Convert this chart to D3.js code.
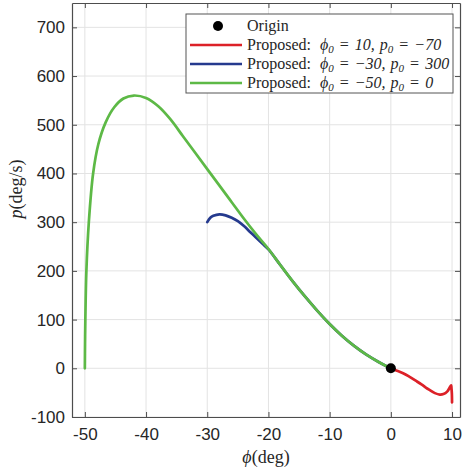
<!DOCTYPE html>
<html>
<head>
<meta charset="utf-8">
<script src="https://cdn.jsdelivr.net/npm/d3@7"></script>
<style>
  body { margin: 0; background: #fff; }
  text { fill: #262626; }
</style>
</head>
<body>
<svg id="chart" width="463" height="470"></svg>
<script>
// Phase-plane trajectories (roll angle vs roll rate)
const xTicks = [-50, -40, -30, -20, -10, 0, 10];
const yTicks = [-100, 0, 100, 200, 300, 400, 500, 600, 700];

const originPhi = [0];
const originP = [0];

const redPhi = [10, 9.97, 9.9, 9.85, 9.6, 9.2, 8.6, 8.0, 7.2, 6.0, 5.0, 4.0, 3.0, 2.0, 1.0, 0];
const redP   = [-70, -52, -40, -35, -40, -48, -53, -54, -51, -42, -33, -25, -17, -10, -5, 0];

const bluePhi = [-30, -29.5, -29, -28, -27, -26, -25, -24, -23, -22, -21, -20, -18, -16, -14, -12, -10, -8, -6, -4, -2, 0];
const blueP   = [300, 309, 313, 316, 314, 309, 302, 292, 280, 268, 256, 244, 211, 178, 147, 118, 91, 67, 46, 28, 13, 0];

const greenPhi = [-50, -49.97, -49.92, -49.75, -49.35, -48.65, -47.8, -46.6, -45.2, -43.7, -42, -40, -38, -36, -34, -32, -30, -28, -26, -24, -22, -20, -18, -16, -14, -12, -10, -8, -6, -4, -2, 0];
const greenP   = [0, 50, 100, 200, 300, 400, 460, 505, 536, 554, 560, 555, 538, 511, 477, 443, 409, 375, 341, 307, 275, 245, 211, 178, 147, 118, 91, 67, 46, 28, 13, 0];

const legendLabels = [
  {kind: "marker", color: "#000"},
  {kind: "line", color: "#dc2128", phi: "10", p: "−70"},
  {kind: "line", color: "#253a8e", phi: "−30", p: "300"},
  {kind: "line", color: "#5db946", phi: "−50", p: "0"}
];

const svg = d3.select("#chart");
const W = 463, H = 470;
const m = {left: 72, right: 3, top: 3, bottom: 53};
const x = d3.scaleLinear().domain([-52.1, 11.3]).range([m.left, W - m.right]);
const y = d3.scaleLinear().domain([-100, 750]).range([H - m.bottom, m.top]);

const axisColor = "#4d4d4d";
const gridColor = "#e3e3e3";

// grid
const grid = svg.append("g");
grid.selectAll(".gx").data(xTicks).join("line")
  .attr("x1", d => x(d)).attr("x2", d => x(d))
  .attr("y1", y.range()[1]).attr("y2", y.range()[0])
  .attr("stroke", gridColor).attr("stroke-width", 1);
grid.selectAll(".gy").data(yTicks).join("line")
  .attr("y1", d => y(d)).attr("y2", d => y(d))
  .attr("x1", x.range()[0]).attr("x2", x.range()[1])
  .attr("stroke", gridColor).attr("stroke-width", 1);

// axes: ticks point inward on all four sides
const tickLen = 5;
function styleAxis(g) {
  g.select(".domain").attr("stroke", axisColor).attr("stroke-width", 1.2);
  g.selectAll(".tick line").attr("stroke", axisColor);
  g.selectAll(".tick text").attr("font-family", "Liberation Sans, Arial, sans-serif")
    .attr("font-size", 17).attr("fill", "#262626");
}
svg.append("g").attr("transform", `translate(0,${y.range()[0]})`)
  .call(d3.axisBottom(x).tickValues(xTicks).tickSizeInner(-tickLen).tickSizeOuter(0).tickPadding(11).tickFormat(d3.format("d")))
  .call(styleAxis);
svg.append("g").attr("transform", `translate(0,${y.range()[1]})`)
  .call(d3.axisTop(x).tickValues(xTicks).tickSizeInner(-tickLen).tickSizeOuter(0).tickFormat(""))
  .call(styleAxis);
svg.append("g").attr("transform", `translate(${x.range()[0]},0)`)
  .call(d3.axisLeft(y).tickValues(yTicks).tickSizeInner(-tickLen).tickSizeOuter(0).tickPadding(7).tickFormat(d3.format("d")))
  .call(styleAxis);
svg.append("g").attr("transform", `translate(${x.range()[1]},0)`)
  .call(d3.axisRight(y).tickValues(yTicks).tickSizeInner(-tickLen).tickSizeOuter(0).tickFormat(""))
  .call(styleAxis);
svg.selectAll(".tick text").text(function() { return this.textContent.replace("−", "-"); });

// axis titles
const serif = "Liberation Serif, Times New Roman, serif";
const xt = svg.append("text").attr("x", (x.range()[0] + x.range()[1]) / 2).attr("y", 463)
  .attr("text-anchor", "middle").attr("font-family", serif).attr("font-size", 18);
xt.append("tspan").attr("font-style", "italic").text("ϕ");
xt.append("tspan").text("(deg)");

const yt = svg.append("text").attr("transform", "translate(22,189) rotate(-90)")
  .attr("text-anchor", "middle").attr("font-family", serif).attr("font-size", 18);
yt.append("tspan").attr("font-style", "italic").text("p");
yt.append("tspan").text("(deg/s)");

// trajectories
const plot = svg.append("g");
const line = d3.line().x(d => x(d[0])).y(d => y(d[1])).curve(d3.curveCatmullRom.alpha(0.5));
const series = [
  {phi: redPhi, p: redP, color: legendLabels[1].color},
  {phi: bluePhi, p: blueP, color: legendLabels[2].color},
  {phi: greenPhi, p: greenP, color: legendLabels[3].color}
];
series.forEach(s => {
  plot.append("path").datum(d3.zip(s.phi, s.p))
    .attr("d", line).attr("fill", "none").attr("stroke", s.color)
    .attr("stroke-width", 2.7).attr("stroke-linejoin", "round").attr("stroke-linecap", "round");
});
plot.selectAll(".origin").data(d3.zip(originPhi, originP)).join("circle")
  .attr("cx", d => x(d[0])).attr("cy", d => y(d[1])).attr("r", 5).attr("fill", "#000");

// legend
const lg = svg.append("g");
const lx = 186, ly = 14, lw = 267, lh = 79, rowH = 19;
lg.append("rect").attr("x", lx).attr("y", ly).attr("width", lw).attr("height", lh)
  .attr("fill", "#fff").attr("stroke", "#555").attr("stroke-width", 1);
legendLabels.forEach((item, i) => {
  const cy = ly + 12 + i * rowH;
  if (item.kind === "marker") {
    lg.append("circle").attr("cx", lx + 32).attr("cy", cy).attr("r", 5).attr("fill", item.color);
  } else {
    lg.append("line").attr("x1", lx + 4).attr("x2", lx + 56).attr("y1", cy).attr("y2", cy)
      .attr("stroke", item.color).attr("stroke-width", 2.7);
  }
  const t = lg.append("text").attr("x", lx + 61).attr("y", cy + 5)
    .attr("font-family", serif).attr("font-size", 16);
  if (item.kind === "marker") {
    t.append("tspan").text("Origin");
  } else {
    t.append("tspan").text("Proposed:");
    t.append("tspan").attr("dx", 9).attr("font-style", "italic").text("ϕ");
    t.append("tspan").attr("font-style", "italic").attr("font-size", 11).attr("dy", 3).text("0");
    t.append("tspan").attr("dy", -3).attr("dx", 6).text("=");
    t.append("tspan").attr("dx", 6).attr("font-style", "italic").text(item.phi);
    t.append("tspan").attr("font-style", "italic").text(",");
    t.append("tspan").attr("dx", 5).attr("font-style", "italic").text("p");
    t.append("tspan").attr("font-style", "italic").attr("font-size", 11).attr("dy", 3).text("0");
    t.append("tspan").attr("dy", -3).attr("dx", 6).text("=");
    t.append("tspan").attr("dx", 6).attr("font-style", "italic").text(item.p);
  }
});
</script>
</body>
</html>
